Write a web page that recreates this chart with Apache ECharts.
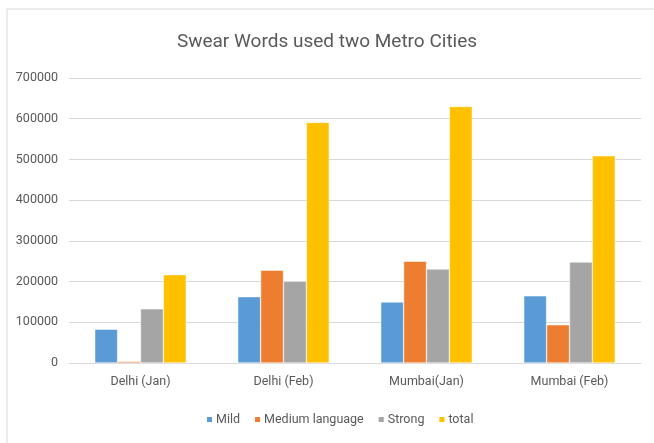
<!DOCTYPE html>
<html>
<head>
<meta charset="utf-8">
<script src="https://cdn.jsdelivr.net/npm/echarts@6/dist/echarts.min.js"></script>
<style>
  html, body { margin: 0; padding: 0; background: #fff; }
  #chart { width: 654px; height: 443px; }
</style>
</head>
<body>
<div id="chart"></div>
<script>
const categories = ["Delhi (Jan)", "Delhi (Feb)", "Mumbai(Jan)", "Mumbai (Feb)"];
const mild = [83000, 163000, 150000, 165000];
const medium = [4000, 228000, 250000, 94000];
const strong = [133000, 201000, 231000, 248000];
const total = [217000, 591000, 630000, 509000];
const yTicks = [0, 100000, 200000, 300000, 400000, 500000, 600000, 700000];

const font = "Roboto";
const textColor = "#595959";

function bar(name, data, color) {
  return {
    name: name,
    type: "bar",
    data: data,
    barGap: "0%",
    barCategoryGap: "36%",
    itemStyle: { color: color, borderColor: "#fff", borderWidth: 0.5 },
  };
}

let myChart = echarts.init(document.getElementById("chart"));
let option = {
  animation: false,
  textStyle: { fontFamily: font },
  title: {
    text: "Swear Words used two Metro Cities",
    left: "center",
    top: 28,
    textStyle: { fontSize: 19, fontWeight: "normal", color: textColor, fontFamily: font },
  },
  graphic: [
    {
      type: "rect",
      shape: { x: 7, y: 9, width: 660, height: 450 },
      style: { fill: null, stroke: "#d9d9d9", lineWidth: 1 },
      silent: true,
    },
  ],
  legend: {
    bottom: 12,
    left: 200,
    itemWidth: 7,
    itemHeight: 7,
    itemGap: 13,
    icon: "rect",
    textStyle: { fontSize: 12.5, color: textColor, fontFamily: font, padding: [0, 0, 0, -2] },
    data: ["Mild", "Medium language", "Strong", "total"],
  },
  grid: { left: 69, right: 13, top: 78, bottom: 80 },
  xAxis: {
    type: "category",
    data: categories,
    axisTick: { show: false },
    axisLine: { lineStyle: { color: "#d9d9d9" } },
    axisLabel: { fontSize: 12.5, color: textColor, margin: 12 },
  },
  yAxis: {
    type: "value",
    min: yTicks[0],
    max: yTicks[yTicks.length - 1],
    interval: 100000,
    axisLine: { show: false },
    axisTick: { show: false },
    splitLine: { lineStyle: { color: "#d9d9d9" } },
    axisLabel: { fontSize: 12.5, color: textColor, margin: 11, formatter: (v) => String(v) },
  },
  series: [
    bar("Mild", mild, "#5b9bd5"),
    bar("Medium language", medium, "#ed7d31"),
    bar("Strong", strong, "#a5a5a5"),
    bar("total", total, "#ffc000"),
  ],
};
myChart.setOption(option);
</script>
</body>
</html>
